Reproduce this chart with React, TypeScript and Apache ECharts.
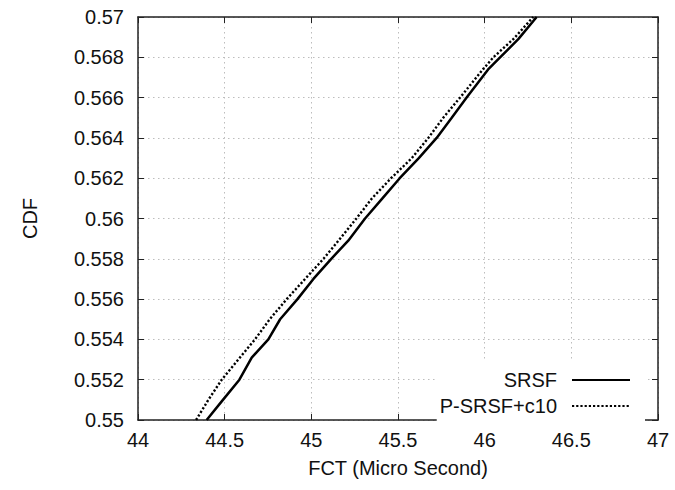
import React, { useEffect, useRef } from "react";
import * as echarts from "echarts";

const seriesNames = ["SRSF", "P-SRSF+c10"];

const srsfX = [44.396, 44.49, 44.585, 44.656, 44.752, 44.82, 44.92, 45.012, 45.115, 45.213, 45.31, 45.41, 45.51, 45.62, 45.723, 45.81, 45.896, 46.02, 46.089, 46.194, 46.30];
const srsfY = [0.55, 0.551, 0.552, 0.5531, 0.554, 0.555, 0.556, 0.557, 0.558, 0.5589, 0.56, 0.561, 0.562, 0.563, 0.564, 0.565, 0.566, 0.5674, 0.568, 0.5689, 0.57];

const psrsfX = [44.335, 44.406, 44.483, 44.588, 44.675, 44.76, 44.858, 44.964, 45.07, 45.156, 45.26, 45.35, 45.46, 45.58, 45.675, 45.761, 45.858, 45.99, 46.05, 46.165, 46.28];
const psrsfY = [0.55, 0.551, 0.552, 0.5531, 0.554, 0.555, 0.556, 0.557, 0.558, 0.5589, 0.56, 0.561, 0.562, 0.563, 0.564, 0.565, 0.566, 0.5674, 0.568, 0.5689, 0.57];

const xAxisTitle = "FCT (Micro Second)";
const yAxisTitle = "CDF";

const FONT = "Liberation Sans, Arial, Helvetica, sans-serif";

export default function App() {
  const ref = useRef<HTMLDivElement>(null);
  useEffect(() => {
    if (!ref.current) return;
    const chart = echarts.init(ref.current, undefined, { renderer: "svg" });
    const axisLine = { show: true, lineStyle: { color: "#222", width: 1.5 } };
    const tick = { show: true, inside: true, length: 6, lineStyle: { color: "#222", width: 1 } };
    const split = { show: true, lineStyle: { color: "#bdbdbd", width: 1, type: [1.5, 3.5] } };
    const label = { color: "#111", fontSize: 20, fontFamily: FONT };
    chart.setOption({
      animation: false,
      backgroundColor: "#fff",
      grid: { left: 138, right: 17, top: 17, bottom: 70, containLabel: false },
      legend: {
        data: seriesNames,
        orient: "vertical",
        align: "right",
        right: 30,
        top: 360,
        padding: [10, 14, 8, 3],
        backgroundColor: "#fff",
        itemWidth: 58,
        itemHeight: 14,
        itemGap: 6,
        itemStyle: { opacity: 0 },
        textStyle: { color: "#111", fontSize: 20, fontFamily: FONT, padding: [0, 10, 0, 0] },
      },
      xAxis: [
        {
          type: "value",
          min: 44,
          max: 47,
          interval: 0.5,
          position: "bottom",
          name: xAxisTitle,
          nameLocation: "middle",
          nameGap: 38,
          nameTextStyle: { color: "#111", fontSize: 20, fontFamily: FONT },
          axisLine,
          axisTick: tick,
          splitLine: split,
          axisLabel: { ...label, margin: 10 },
        },
        {
          type: "value",
          min: 44,
          max: 47,
          interval: 0.5,
          position: "top",
          axisLine,
          axisTick: tick,
          splitLine: { show: false },
          axisLabel: { show: false },
        },
      ],
      yAxis: [
        {
          type: "value",
          min: 0.55,
          max: 0.57,
          interval: 0.002,
          position: "left",
          name: yAxisTitle,
          nameLocation: "middle",
          nameGap: 98,
          nameTextStyle: { color: "#111", fontSize: 20, fontFamily: FONT },
          axisLine,
          axisTick: tick,
          splitLine: split,
          axisLabel: { ...label, margin: 14 },
        },
        {
          type: "value",
          min: 0.55,
          max: 0.57,
          interval: 0.002,
          position: "right",
          axisLine,
          axisTick: tick,
          splitLine: { show: false },
          axisLabel: { show: false },
        },
      ],
      series: [
        {
          name: seriesNames[0],
          type: "line",
          xAxisIndex: 0,
          yAxisIndex: 0,
          symbol: "none",
          showSymbol: false,
          data: srsfX.map((x, i) => [x, srsfY[i]]),
          lineStyle: { color: "#000", width: 2.5, type: "solid" },
          itemStyle: { color: "#000" },
        },
        {
          name: seriesNames[1],
          type: "line",
          xAxisIndex: 0,
          yAxisIndex: 0,
          symbol: "none",
          showSymbol: false,
          data: psrsfX.map((x, i) => [x, psrsfY[i]]),
          lineStyle: { color: "#000", width: 2.4, type: [2.2, 2] },
          itemStyle: { color: "#000" },
        },
      ],
    });
    return () => chart.dispose();
  }, []);
  return <div ref={ref} style={{ width: 675, height: 490, position: "absolute", left: 0, top: 0 }} />;
}
